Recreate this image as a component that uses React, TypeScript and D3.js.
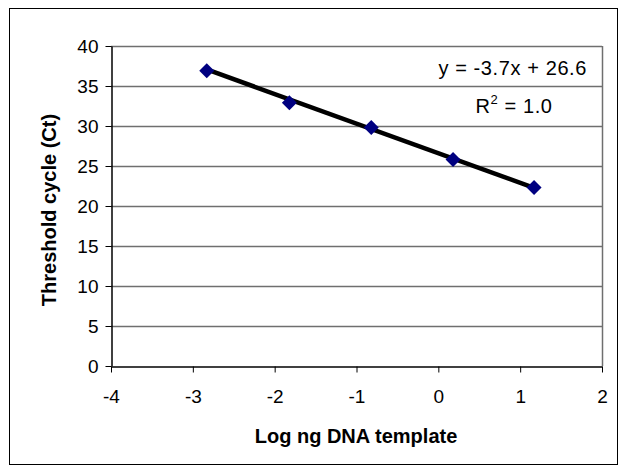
import { useEffect, useRef } from "react";
import * as d3 from "d3";

// Standard curve: log ng template vs threshold cycle
const logTemplate = [-2.83, -1.82, -0.82, 0.18, 1.17];
const thresholdCycle = [36.9, 32.9, 29.8, 25.8, 22.3];
const xTicks = [-4, -3, -2, -1, 0, 1, 2];
const yTicks = [0, 5, 10, 15, 20, 25, 30, 35, 40];
const slope = -3.7;
const intercept = 26.6;
const equationLabel = "y = -3.7x + 26.6";

export default function App() {
  const ref = useRef<SVGSVGElement | null>(null);

  useEffect(() => {
    if (!ref.current) return;
    const svg = d3.select(ref.current);
    svg.selectAll("*").remove();

    const font = "Liberation Sans, Arial, sans-serif";
    const left = 111, right = 602, top = 46, bottom = 366;

    const x = d3.scaleLinear().domain([-4, 2]).range([left, right]);
    const y = d3.scaleLinear().domain([0, 40]).range([bottom, top]);

    // outer chart frame
    svg.append("rect")
      .attr("x", 9.5).attr("y", 8.5).attr("width", 608).attr("height", 456)
      .attr("fill", "#fff").attr("stroke", "#000").attr("stroke-width", 1);

    // gridlines
    svg.append("g").selectAll("line").data(yTicks.filter(d => d > 0)).join("line")
      .attr("x1", left).attr("x2", right)
      .attr("y1", d => Math.round(y(d)) + 0.5).attr("y2", d => Math.round(y(d)) + 0.5)
      .attr("stroke", "#6f6f6f").attr("stroke-width", 1.5);

    // plot area right border
    svg.append("line")
      .attr("x1", right + 0.5).attr("x2", right + 0.5).attr("y1", top).attr("y2", bottom)
      .attr("stroke", "#6f6f6f").attr("stroke-width", 1.5);

    const fmt = (d: d3.NumberValue) => String(d);
    const xAxis = svg.append("g")
      .attr("transform", `translate(0,${bottom + 0.5})`)
      .call(d3.axisBottom(x).tickValues(xTicks).tickSize(6).tickSizeOuter(0).tickFormat(fmt));
    const yAxis = svg.append("g")
      .attr("transform", `translate(${left + 0.5},0)`)
      .call(d3.axisLeft(y).tickValues(yTicks).tickSize(6).tickSizeOuter(0).tickFormat(fmt));

    [xAxis, yAxis].forEach(a => {
      a.select(".domain").attr("stroke", "#000").attr("stroke-width", 1.5);
      a.selectAll(".tick line").attr("stroke", "#000");
      a.selectAll("text").attr("font-family", font).attr("font-size", 19).attr("fill", "#000");
    });
    xAxis.selectAll("text").attr("y", 36).attr("dy", 0);
    yAxis.selectAll("text").attr("x", -13).attr("dy", "0.35em");

    // trendline
    const ends = d3.extent(logTemplate) as [number, number];
    svg.append("line")
      .attr("x1", x(ends[0])).attr("y1", y(slope * ends[0] + intercept))
      .attr("x2", x(ends[1])).attr("y2", y(slope * ends[1] + intercept))
      .attr("stroke", "#000").attr("stroke-width", 4.5);

    // markers
    svg.append("g").selectAll("path").data(logTemplate).join("path")
      .attr("transform", (d, i) => `translate(${x(d)},${y(thresholdCycle[i])}) rotate(45)`)
      .attr("d", "M-5.3,-5.3H5.3V5.3H-5.3Z")
      .attr("fill", "#000080");

    // equation labels
    svg.append("text")
      .attr("x", 587).attr("y", 75).attr("text-anchor", "end")
      .attr("font-family", font).attr("font-size", 20).attr("letter-spacing", 0.6)
      .text(equationLabel);
    const r2 = svg.append("text")
      .attr("x", 514).attr("y", 113).attr("text-anchor", "middle")
      .attr("font-family", font).attr("font-size", 20).attr("letter-spacing", 0.6);
    r2.append("tspan").text("R");
    r2.append("tspan").attr("font-size", 13).attr("dy", -9).text("2");
    r2.append("tspan").attr("dy", 9).text(" = 1.0");

    // axis titles
    svg.append("text")
      .attr("x", 356).attr("y", 443).attr("text-anchor", "middle")
      .attr("font-family", font).attr("font-size", 20).attr("font-weight", "bold")
      .text("Log ng DNA template");
    svg.append("text")
      .attr("transform", `translate(56,210) rotate(-90)`)
      .attr("text-anchor", "middle")
      .attr("font-family", font).attr("font-size", 20).attr("font-weight", "bold")
      .text("Threshold cycle (Ct)");
  }, []);

  return (
    <svg ref={ref} width={626} height={472}
      style={{ position: "absolute", left: 0, top: 0, display: "block" }}
      role="img" aria-label="Standard curve of threshold cycle vs log ng DNA template" />
  );
}
